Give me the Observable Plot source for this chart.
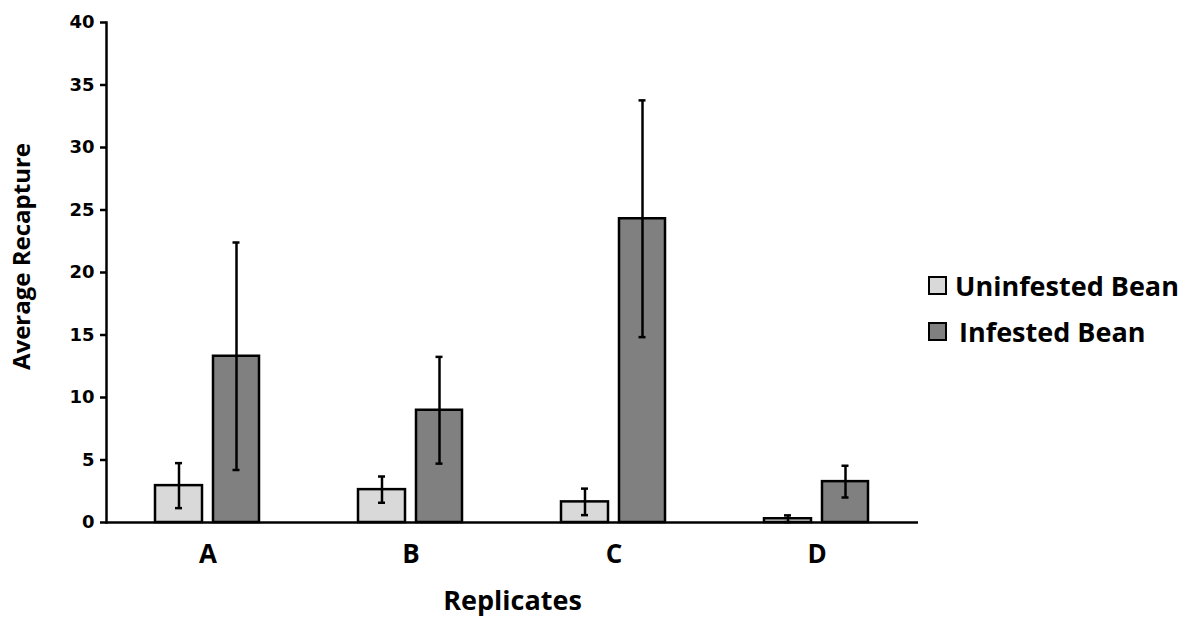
<!DOCTYPE html>
<html>
<head>
<meta charset="utf-8">
<script src="https://cdn.jsdelivr.net/npm/d3@7"></script>
<script src="https://cdn.jsdelivr.net/npm/@observablehq/plot@0.6"></script>
<style>
  html, body { margin: 0; padding: 0; background: #fff; }
  #wrap { position: relative; width: 1195px; height: 619px; }
  #wrap g[aria-label="y-axis tick label"] { font-size: 18px; font-weight: 700; font-family: "DejaVu Sans", sans-serif; }
  #wrap g[aria-label="x-axis tick label"] { font-size: 26px; font-weight: 700; font-family: "Open Sans", sans-serif; }
  .lg { position: absolute; font-family: "Open Sans", sans-serif; font-weight: 700; font-size: 27px; color: #000; display: flex; align-items: center; }
  .sw { width: 15px; height: 15px; border: 2px solid #000; margin-right: 8px; }
</style>
</head>
<body>
<div id="wrap"></div>
<script>
const replicates = ["A", "B", "C", "D"];
const seriesNames = ["Uninfested Bean", "Infested Bean"];
const uninfested = [2.95, 2.63, 1.65, 0.3];
const uninfestedErr = [1.8, 1.05, 1.06, 0.27];
const infested = [13.3, 8.98, 24.3, 3.27];
const infestedErr = [9.1, 4.27, 9.47, 1.27];
const yTicks = [0, 5, 10, 15, 20, 25, 30, 35, 40];
const colors = ["#d9d9d9", "#808080"];

const uData = replicates.map((r, i) => ({rep: r, value: uninfested[i], lo: uninfested[i] - uninfestedErr[i], hi: uninfested[i] + uninfestedErr[i]}));
const iData = replicates.map((r, i) => ({rep: r, value: infested[i], lo: infested[i] - infestedErr[i], hi: infested[i] + infestedErr[i]}));

const W = 1195, H = 619, mL = 106, mR = 277;
const band = (W - mL - mR) / replicates.length;  // 203
const uL = 49, uR = band - 49 - 47;
const iL = 107, iR = band - 107 - 46;
const uDx = (uL + (band - uL - uR) / 2) - band / 2;
const iDx = (iL + (band - iL - iR) / 2) - band / 2;
const capHalf = 3.5;

const sw = 2.5;
const chart = Plot.plot({
  width: W, height: H,
  marginLeft: mL, marginRight: mR, marginTop: 22, marginBottom: 97,
  style: {background: "transparent", color: "#000"},
  x: {domain: replicates, padding: 0, axis: null},
  y: {domain: [0, 40], axis: null},
  marks: [
    Plot.barY(uData, {x: "rep", y: "value", fill: colors[0], stroke: "#000", strokeWidth: sw, insetLeft: uL, insetRight: uR}),
    Plot.barY(iData, {x: "rep", y: "value", fill: colors[1], stroke: "#000", strokeWidth: sw, insetLeft: iL, insetRight: iR}),
    Plot.ruleX(uData, {x: "rep", y1: "lo", y2: "hi", dx: uDx, stroke: "#000", strokeWidth: sw}),
    Plot.ruleX(iData, {x: "rep", y1: "lo", y2: "hi", dx: iDx, stroke: "#000", strokeWidth: sw}),
    Plot.tickY(uData, {x: "rep", y: "hi", dx: uDx, insetLeft: band / 2 - capHalf, insetRight: band / 2 - capHalf, stroke: "#000", strokeWidth: sw}),
    Plot.tickY(uData, {x: "rep", y: "lo", dx: uDx, insetLeft: band / 2 - capHalf, insetRight: band / 2 - capHalf, stroke: "#000", strokeWidth: sw}),
    Plot.tickY(iData, {x: "rep", y: "hi", dx: iDx, insetLeft: band / 2 - capHalf, insetRight: band / 2 - capHalf, stroke: "#000", strokeWidth: sw}),
    Plot.tickY(iData, {x: "rep", y: "lo", dx: iDx, insetLeft: band / 2 - capHalf, insetRight: band / 2 - capHalf, stroke: "#000", strokeWidth: sw}),
    Plot.ruleY([0], {stroke: "#000", strokeWidth: sw}),
    Plot.frame({anchor: "left", stroke: "#000", strokeWidth: sw}),
    Plot.axisY({ticks: yTicks, tickSize: 6, tickPadding: 6, tickFormat: d => String(d), fontSize: 18, fontWeight: 700, fontFamily: "DejaVu Sans", strokeWidth: sw, label: null}),
    Plot.axisX({tickSize: 0, tickPadding: 22, fontSize: 26, fontWeight: 700, fontFamily: "Open Sans", label: null}),
    Plot.text(["Replicates"], {frameAnchor: "bottom", dy: 87, fontSize: 27, fontWeight: 700, fontFamily: "Open Sans", fill: "#000"}),
    Plot.text(["Average Recapture"], {frameAnchor: "left", textAnchor: "middle", dx: -84, dy: -16, rotate: -90, fontSize: 24, fontWeight: 700, fontFamily: "Open Sans", fill: "#000"})
  ]
});
const wrap = document.getElementById("wrap");
wrap.appendChild(chart);

const legendPos = [{x: 928, y: 286}, {x: 928, y: 332}];
seriesNames.forEach((name, i) => {
  const d = document.createElement("div");
  d.className = "lg";
  d.style.left = legendPos[i].x + "px";
  d.style.top = (legendPos[i].y - 21) + "px";
  d.style.height = "40px";
  const s = document.createElement("div");
  s.className = "sw";
  s.style.background = colors[i];
  if (i === 1) s.style.marginRight = "12px";
  const t = document.createElement("span");
  t.textContent = name;
  d.appendChild(s); d.appendChild(t);
  wrap.appendChild(d);
});
</script>
</body>
</html>
